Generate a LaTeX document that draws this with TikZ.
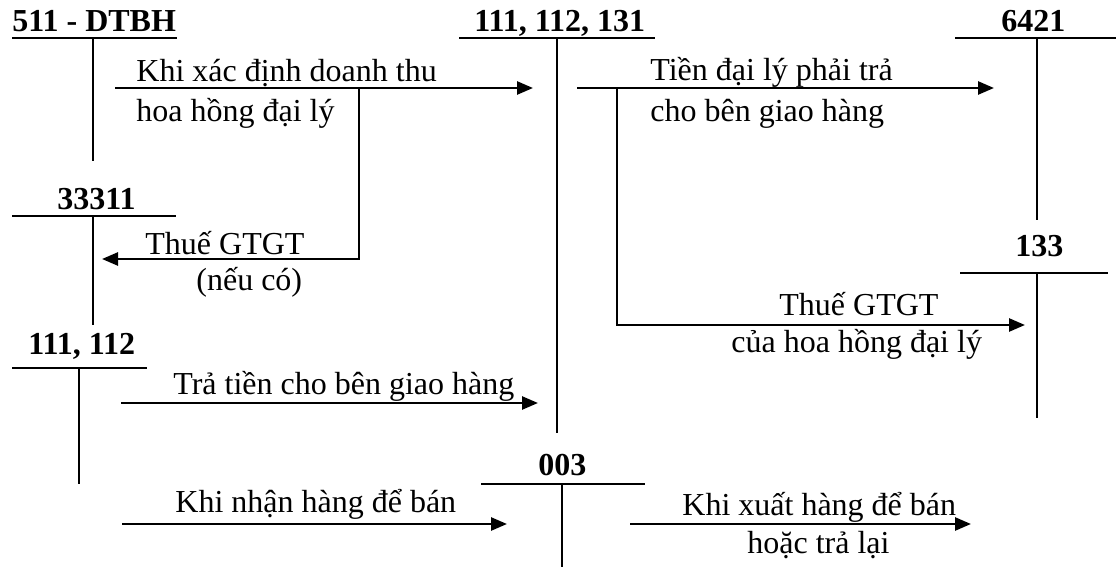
\documentclass[tikz,border=0pt]{standalone}
\usepackage{fontspec}
\setmainfont{Liberation Serif}
\usetikzlibrary{arrows.meta}

\begin{document}
\begin{tikzpicture}[x=0.5pt,y=-0.5pt,
  acc/.style = {font=\fontsize{16}{18}\selectfont\bfseries, inner sep=0pt, anchor=base west},
  txt/.style = {font=\fontsize{16}{18}\selectfont, inner sep=0pt, anchor=base west},
  tline/.style = {line width=0.9pt},
  arr/.style = {line width=1.3pt, -{Triangle[length=8pt,width=6.5pt]}}]
\useasboundingbox (0,0) rectangle (1116,567);

% T accounts
\node[acc] (a511) at (12,32) {511 - DTBH};
\draw[tline] (12,38) -- (177,38);
\draw[tline] (93,38) -- (93,161);

\node[acc] (a111) at (474,32) {111, 112, 131};
\draw[tline] (459,38) -- (655,38);
\draw[tline] (557,38) -- (557,433);

\node[acc] (a6421) at (1001,32) {6421};
\draw[tline] (955,38) -- (1116,38);
\draw[tline] (1037,38) -- (1037,220);

\node[acc] (a33311) at (57,210) {33311};
\draw[tline] (12,216) -- (176,216);
\draw[tline] (93,216) -- (93,325);

\node[acc] (a133) at (1015,257) {133};
\draw[tline] (960,273) -- (1108,273);
\draw[tline] (1037,273) -- (1037,418);

\node[acc] (a1112) at (28,355) {111, 112};
\draw[tline] (12,368) -- (147,368);
\draw[tline] (79,368) -- (79,484);

\node[acc] (a003) at (538,475) {003};
\draw[tline] (481,484) -- (645,484);
\draw[tline] (562,484) -- (562,567);

% arrow end points
\coordinate (s1) at (115,88);
\coordinate (e1) at (533,88);
\coordinate (b1) at (359,88);
\coordinate (k1) at (359,259);
\coordinate (e2) at (102,259);
\coordinate (s3) at (577,88);
\coordinate (e3) at (994,88);
\coordinate (b3) at (617,88);
\coordinate (k3) at (617,325);
\coordinate (e4) at (1025,325);
\coordinate (s5) at (121,403);
\coordinate (e5) at (538,403);
\coordinate (s6) at (122,524);
\coordinate (e6) at (507,524);
\coordinate (s7) at (630,524);
\coordinate (e7) at (971,524);

\draw[arr] (s1) -- (e1);
\draw[arr] (b1) -- (k1) -- (e2);
\draw[arr] (s3) -- (e3);
\draw[arr] (b3) -- (k3) -- (e4);
\draw[arr] (s5) -- (e5);
\draw[arr] (s6) -- (e6);
\draw[arr] (s7) -- (e7);

% labels
\node[txt] (l1) at (136,82) {Khi xác định doanh thu};
\node[txt] (l1b) at (136,122) {hoa hồng đại lý};
\node[txt] (l2) at (145,255) {Thuế GTGT};
\node[txt] (l2b) at (196,291) {(nếu có)};
\node[txt] (l3) at (650,81) {Tiền đại lý phải trả};
\node[txt] (l3b) at (650,122) {cho bên giao hàng};
\node[txt] (l4) at (779,316) {Thuế GTGT};
\node[txt] (l4b) at (731,353) {của hoa hồng đại lý};
\node[txt] (l5) at (173,394) {Trả tiền cho bên giao hàng};
\node[txt] (l6) at (175,512) {Khi nhận hàng để bán};
\node[txt] (l7) at (682,516) {Khi xuất hàng để bán};
\node[txt] (l7b) at (747,553) {hoặc trả lại};
\end{tikzpicture}
\end{document}
